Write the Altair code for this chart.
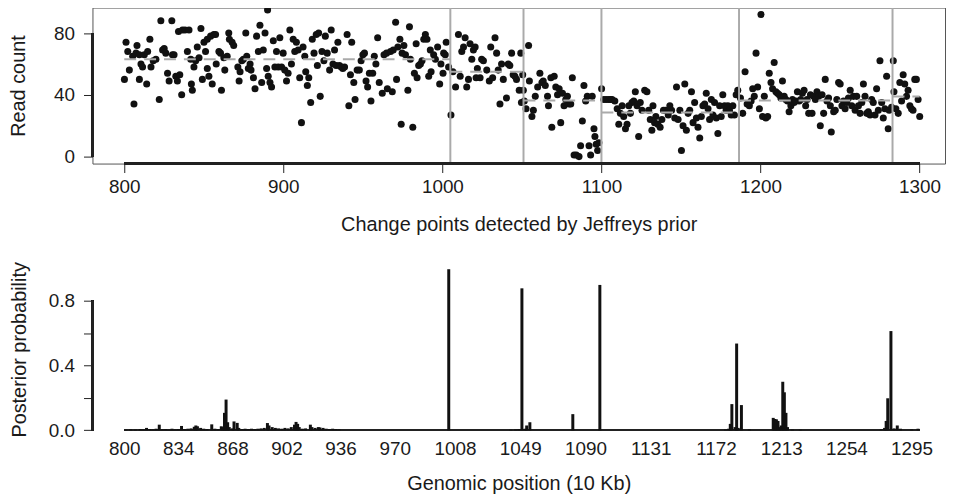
import altair as alt
import pandas as pd

# ---------------- data ----------------
positions = [
    800.1, 801.1, 802.2, 803.2, 805.3, 806.1, 807.4, 808.0, 809.5, 809.5, 810.5, 811.5, 812.6, 814.1, 814.7,
    816.1, 816.8, 818.2, 819.9, 822.0, 823.0, 824.1, 825.1, 826.1, 827.2, 828.2, 829.9, 830.3, 831.3, 832.4,
    833.4, 834.1, 834.9, 836.1, 836.6, 838.2, 839.7, 840.7, 841.8, 842.2, 842.8, 843.8, 844.9, 845.9, 847.0,
    848.2, 849.1, 850.1, 851.1, 852.2, 852.2, 853.2, 854.3, 855.3, 856.3, 857.4, 857.8, 859.5, 860.5, 861.1,
    862.6, 863.2, 864.7, 865.7, 866.1, 867.8, 868.8,
    871.4, 872.2, 872.8, 873.9, 874.9, 876.4, 877.0, 878.0, 879.1, 879.7, 881.2, 882.2, 883.2, 884.3, 885.3,
    886.4, 887.4, 888.5, 889.5, 890.1, 890.5, 891.6, 892.6, 893.7, 894.7, 895.7, 896.8, 897.8, 898.9, 899.9,
    900.9, 902.0, 903.0, 904.1, 905.1, 906.2, 907.2, 908.2, 909.3, 910.3, 911.4, 912.4, 913.5, 914.1, 915.1,
    916.0, 917.2, 918.2, 919.3, 920.7, 921.4, 922.2, 923.2, 924.3, 925.5, 926.4, 927.6, 929.1, 930.1, 931.2,
    932.2, 933.2, 934.3, 935.3, 936.4, 937.4, 938.5, 940.1, 941.2, 942.2, 943.0, 944.3, 945.1, 946.4, 947.8,
    948.9, 950.0, 951.0, 952.0, 953.0, 954.1, 955.1, 956.2, 957.2, 958.2, 959.3, 960.3,
    962.2, 963.3, 964.9, 965.4, 967.4, 968.5, 969.1, 970.6, 971.2, 972.0, 973.3, 974.1, 974.7, 975.8, 976.8,
    978.3, 979.3, 979.9, 981.4, 982.4, 983.5, 984.1, 985.1, 986.2, 987.2, 988.3, 989.3, 990.3, 991.4, 992.4,
    992.9, 994.5, 995.6, 997.0, 998.3, 999.1, 1000.4, 1000.8, 1001.8, 1002.4, 1003.9, 1005.4, 1006.6, 1008.3,
    1010.1, 1011.2, 1012.2, 1013.3, 1014.3, 1015.3, 1016.4, 1017.4, 1018.5, 1019.5, 1020.6, 1021.2, 1022.0,
    1023.7, 1024.7, 1025.8, 1027.9, 1029.5, 1030.4, 1031.6, 1033.1, 1034.1, 1035.1, 1036.2, 1037.2, 1038.3,
    1040.3, 1041.4, 1042.4, 1043.5, 1044.5, 1045.6, 1046.6, 1048.3, 1049.3, 1049.7,
    1050.5, 1050.9, 1051.5, 1052.6, 1054.2, 1054.7, 1056.3, 1057.2, 1058.4, 1059.9, 1061.3, 1062.6, 1063.4,
    1064.7, 1066.1, 1066.7, 1068.2, 1068.8, 1070.3, 1071.3, 1072.4, 1073.4, 1074.4, 1075.5, 1076.5, 1077.6,
    1078.6, 1079.7, 1080.7, 1081.7, 1082.8, 1084.2, 1085.9, 1086.9, 1088.0, 1089.0, 1090.1, 1091.1, 1092.2,
    1093.2, 1094.2, 1095.3, 1095.9, 1096.7, 1097.6, 1098.4, 1100.1, 1101.5, 1103.0, 1104.6, 1105.7, 1106.7,
    1108.4, 1109.9, 1110.9, 1111.9, 1113.0, 1114.0, 1115.1, 1116.1, 1117.2, 1118.2, 1119.2, 1120.3, 1121.3,
    1122.4, 1123.4, 1124.4, 1125.5, 1127.2, 1128.6, 1129.7, 1130.7, 1131.7, 1132.4, 1133.4, 1134.2, 1135.5,
    1136.9, 1138.0, 1139.0,
    1140.3, 1142.0, 1143.0, 1144.1, 1146.1, 1147.2, 1148.2, 1149.3, 1150.3, 1151.3, 1152.4, 1153.4, 1154.5,
    1155.5, 1156.6, 1157.6, 1158.6, 1159.7, 1160.7, 1161.8, 1162.8, 1163.8, 1164.9, 1165.9, 1167.0, 1168.0,
    1169.1, 1170.1, 1171.1, 1172.2, 1173.2, 1174.3, 1175.3, 1176.3, 1177.4, 1178.4, 1179.5, 1180.5, 1181.6,
    1182.6, 1183.6, 1184.7, 1185.7, 1187.4, 1188.8, 1190.3, 1191.6, 1193.0, 1194.1, 1195.1, 1196.1, 1197.2,
    1198.2, 1199.3, 1200.3, 1201.3, 1202.4, 1203.4, 1204.5, 1205.5, 1206.6, 1207.6, 1208.6, 1209.7, 1210.7,
    1211.8, 1212.8, 1213.8, 1214.9, 1215.9, 1217.0, 1218.0, 1219.1, 1220.1, 1221.1, 1222.2, 1223.2, 1224.3,
    1225.3, 1226.3, 1227.4, 1228.4,
    1229.3, 1230.3, 1231.4, 1232.4, 1233.5, 1234.5, 1235.5, 1236.6, 1237.6, 1238.7, 1239.7, 1240.7, 1241.8,
    1242.8, 1243.9, 1244.5, 1246.0, 1247.0, 1248.0, 1249.1, 1250.1, 1251.2, 1252.2, 1253.2, 1254.3, 1255.3,
    1256.4, 1257.4, 1258.4, 1259.5, 1260.5, 1261.6, 1262.6, 1263.7, 1264.7, 1265.7, 1266.8, 1267.8, 1268.9,
    1269.9, 1270.9, 1272.0, 1273.0, 1274.1, 1275.1, 1276.2, 1277.2, 1278.2, 1279.3, 1280.3, 1280.9, 1282.4,
    1283.5, 1283.9, 1285.1, 1286.6, 1287.6, 1288.7, 1289.7, 1290.7, 1291.8, 1292.8, 1293.9, 1294.9, 1295.9,
    1297.0, 1298.0, 1299.1, 1300.1,
]
read_counts = [
    50, 74, 68, 56, 65, 34, 67, 72, 66, 50, 60, 58, 66, 47, 68,
    76, 58, 62, 63, 37, 88, 69, 70, 67, 54, 49, 88, 66, 66, 52,
    49, 81, 53, 40, 82, 82, 68, 82, 63, 47, 43, 58, 62, 71, 64,
    83, 50, 74, 68, 76, 57, 52, 78, 47, 79, 79, 60, 68, 67, 43,
    64, 56, 65, 80, 76, 74, 72,
    58, 49, 55, 62, 63, 80, 65, 57, 60, 56, 51, 44, 78, 68, 85,
    48, 69, 80, 57, 95, 52, 48, 45, 75, 58, 68, 58, 77, 58, 67,
    56, 49, 54, 82, 60, 76, 68, 74, 69, 51, 22, 71, 65, 55, 46,
    51, 35, 76, 67, 79, 59, 80, 39, 68, 62, 78, 67, 56, 82, 60,
    69, 59, 74, 59, 58, 57, 58, 79, 33, 53, 74, 48, 37, 56, 56,
    62, 66, 67, 49, 45, 54, 36, 54, 65, 60, 77, 48,
    41, 66, 67, 44, 68, 42, 69, 87, 50, 71, 76, 21, 67, 72, 66,
    43, 84, 63, 19, 54, 73, 51, 59, 60, 62, 76, 79, 76, 52, 69,
    55, 66, 63, 71, 47, 60, 54, 67, 66, 74, 58, 27, 55, 45,
    79, 52, 68, 71, 77, 45, 50, 73, 63, 69, 71, 51, 57,
    51, 63, 62, 56, 49, 71, 51, 77, 67, 56, 34, 60, 50,
    38, 60, 59, 67, 53, 52, 50, 43, 67, 35,
    53, 43, 36, 31, 72, 49, 26, 30, 39, 45, 54, 48, 49,
    46, 39, 33, 51, 19, 52, 45, 40, 44, 22, 41, 33, 37,
    39, 34, 34, 51, 1, 1, 0, 7, 23, 46, 36, 39, 7,
    1, 39, 18, 13, 8, 4, 9, 44, 37, 37, 37, 37, 37,
    36, 31, 21, 28, 33, 26, 18, 21, 33, 28, 35, 36, 42,
    33, 13, 35, 30, 43, 42, 30, 24, 17, 33, 22, 26, 21,
    19, 24, 30,
    30, 27, 33, 30, 25, 45, 24, 30, 4, 20, 47, 17, 28,
    30, 42, 22, 35, 25, 19, 12, 26, 33, 34, 41, 31, 24,
    37, 27, 35, 25, 15, 33, 26, 40, 33, 30, 33, 30, 27,
    33, 27, 40, 43, 38, 28, 55, 34, 33, 36, 44, 39, 67,
    45, 31, 92, 26, 39, 25, 26, 54, 48, 44, 61, 42, 41,
    40, 38, 49, 39, 37, 36, 29, 33, 37, 35, 36, 42, 36,
    37, 41, 43, 33,
    37, 28, 40, 28, 39, 37, 42, 39, 20, 40, 28, 50, 36,
    38, 33, 16, 29, 30, 37, 48, 47, 33, 36, 31, 35, 38,
    43, 33, 39, 30, 39, 33, 28, 35, 47, 39, 28, 29, 27,
    37, 35, 27, 44, 30, 62, 35, 25, 31, 52, 18, 30, 32,
    62, 42, 31, 28, 48, 36, 53, 47, 39, 43, 33, 31, 30,
    50, 50, 37, 26,
]

change_points = [1005, 1051, 1100, 1186.5, 1283]
segment_start = [800, 1005, 1051, 1100, 1186.5, 1283]
segment_end = [1005, 1051, 1100, 1186.5, 1283, 1300]
segment_mean = [63, 55, 36.3, 28.6, 36.3, 38.9]

prob_positions = [
    801, 804, 807, 810, 812, 814, 816, 818, 820, 822, 824, 826, 828, 830, 832, 834, 836, 838, 840, 842,
    844, 845, 846, 848, 850, 852, 855, 857, 859, 861, 862, 863, 864, 865, 866, 868, 869, 871, 872, 874,
    876, 878, 880, 882, 884, 886, 888, 890, 891, 893, 895, 897, 899, 901, 903, 905, 907, 908, 909, 910,
    912, 914, 917, 918, 920, 922, 923, 925, 927, 929, 931, 933, 935,
    1004, 1043, 1046, 1048, 1050, 1052, 1053, 1055, 1082, 1099,
    1178, 1180, 1181, 1182, 1184, 1185, 1186, 1188, 1193,
    1208, 1209, 1210, 1211, 1212, 1213, 1214, 1215, 1216, 1217, 1220, 1225,
    1276, 1278, 1279, 1280, 1282, 1284, 1286, 1288, 1295, 1299,
]
prob_values = [
    0.004, 0.006, 0.005, 0.008, 0.006, 0.015, 0.008, 0.006, 0.010, 0.035, 0.006, 0.008, 0.005, 0.010,
    0.006, 0.008, 0.027, 0.008, 0.010, 0.012, 0.022, 0.030, 0.025, 0.015, 0.010, 0.008, 0.037, 0.010,
    0.008, 0.025, 0.020, 0.108, 0.190, 0.050, 0.020, 0.012, 0.055, 0.046, 0.015, 0.008, 0.010, 0.008,
    0.010, 0.008, 0.010, 0.012, 0.015, 0.045, 0.030, 0.020, 0.015, 0.012, 0.010, 0.015, 0.012, 0.020,
    0.035, 0.052, 0.040, 0.020, 0.010, 0.012, 0.035, 0.020, 0.015, 0.020, 0.018, 0.015, 0.010, 0.008,
    0.010, 0.008, 0.006,
    0.995, 0.004, 0.006, 0.008, 0.877, 0.010, 0.030, 0.050, 0.100, 0.898,
    0.005, 0.010, 0.040, 0.162, 0.020, 0.536, 0.015, 0.156, 0.006,
    0.077, 0.070, 0.068, 0.058, 0.020, 0.030, 0.300, 0.235, 0.108, 0.020, 0.005, 0.004,
    0.008, 0.015, 0.058, 0.198, 0.613, 0.012, 0.030, 0.010, 0.006, 0.010,
]

top_x_ticks = [800, 900, 1000, 1100, 1200, 1300]
top_y_ticks = [0, 20, 40, 60, 80]
bottom_x_ticks = [800, 834, 868, 902, 936, 970, 1008, 1049, 1090, 1131, 1172, 1213, 1254, 1295]
bottom_y_ticks = [0, 0.2, 0.4, 0.6, 0.8]

# ---------------- tables ----------------
pts = pd.DataFrame({"pos": positions, "count": read_counts})
cps = pd.DataFrame({"cp": change_points})
segs = pd.DataFrame({"start": segment_start, "end": segment_end, "mean": segment_mean})
probs = pd.DataFrame({"pos": prob_positions, "prob": prob_values, "base": [0.0] * len(prob_values)})

FONT = "Liberation Sans"
TXT = "#1a1a1a"
W = 858

xscale = alt.Scale(domain=[780, 1316], nice=False, zero=False)
y_top = alt.Scale(domain=[-4.5, 96.5], nice=False, zero=False)
y_bot = alt.Scale(domain=[-0.04, 1.04], nice=False, zero=False)

# ---------------- top panel ----------------
points = alt.Chart(pts).mark_circle(size=50, color="#111111", opacity=1).encode(
    x=alt.X("pos:Q", scale=xscale,
            axis=alt.Axis(values=top_x_ticks, format="d", domain=False, grid=False,
                          tickSize=9, tickColor="#222222", tickWidth=1,
                          labelPadding=5, titlePadding=18, titleLimit=600,
                          title="Change points detected by Jeffreys prior")),
    y=alt.Y("count:Q", scale=y_top,
            axis=alt.Axis(values=top_y_ticks, domain=False, grid=False,
                          labelExpr="datum.value % 40 == 0 ? datum.label : ''",
                          tickSize=9, tickColor="#222222", tickWidth=1,
                          labelPadding=9, titlePadding=25, titleLimit=400,
                          title="Read count")),
)

vlines = alt.Chart(cps).mark_rule(color="#aaaaaa", strokeWidth=2).encode(x=alt.X("cp:Q", scale=xscale))

dashes = alt.Chart(segs).mark_rule(color="#aaaaaa", strokeWidth=2, strokeDash=[12, 8]).encode(
    x=alt.X("start:Q", scale=xscale), x2="end:Q", y=alt.Y("mean:Q", scale=y_top)
)

top_xaxis_line = alt.Chart(pts).mark_rule(color="#222222", strokeWidth=1.5).encode(
    x=alt.datum(800), x2=alt.datum(1300), y=alt.datum(-4.5)
)
top_yaxis_line = alt.Chart(pts).mark_rule(color="#222222", strokeWidth=1.5).encode(
    x=alt.datum(780), y=alt.datum(0), y2=alt.datum(80)
)

top = alt.layer(points, vlines, dashes, top_xaxis_line, top_yaxis_line).properties(
    width=W, height=157,
    view=alt.ViewBackground(stroke="#555555", strokeWidth=1),
)

# ---------------- bottom panel ----------------
bars = alt.Chart(probs).mark_rule(color="#111111", strokeWidth=3).encode(
    x=alt.X("pos:Q", scale=xscale,
            axis=alt.Axis(values=bottom_x_ticks, format="d", domain=False, grid=False,
                          ticks=False, tickSize=0, labelPadding=3, titlePadding=15,
                          labelOverlap=False, titleLimit=600,
                          title="Genomic position (10 Kb)")),
    y=alt.Y("prob:Q", scale=y_bot,
            axis=alt.Axis(values=bottom_y_ticks, format=".1f", domain=False, grid=False,
                          labelExpr="round(datum.value * 10) % 4 == 0 ? datum.label : ''",
                          tickSize=9, tickColor="#222222", tickWidth=1,
                          labelPadding=9, titlePadding=19, titleLimit=400,
                          title="Posterior probability")),
    y2="base:Q",
)

baseline = alt.Chart(probs).mark_rule(color="#222222", strokeWidth=1.5).encode(
    x=alt.datum(800), x2=alt.datum(1300), y=alt.datum(0)
)
bot_yaxis_line = alt.Chart(probs).mark_rule(color="#222222", strokeWidth=1.5).encode(
    x=alt.datum(780), y=alt.datum(0), y2=alt.datum(0.8)
)

bottom = alt.layer(baseline, bars, bot_yaxis_line).properties(
    width=W, height=176,
    view=alt.ViewBackground(strokeWidth=0),
)

chart = alt.vconcat(top, bottom, spacing=26).properties(
    padding={"top": -4, "left": 0, "right": 0, "bottom": 0},
    background="white",
).configure_view(strokeWidth=0).configure_axis(
    labelFont=FONT, titleFont=FONT, labelFontSize=19, titleFontSize=20,
    labelColor=TXT, titleColor=TXT, titleFontWeight="normal",
)

chart.save("out.html", embed_options={"renderer": "svg", "actions": False})
